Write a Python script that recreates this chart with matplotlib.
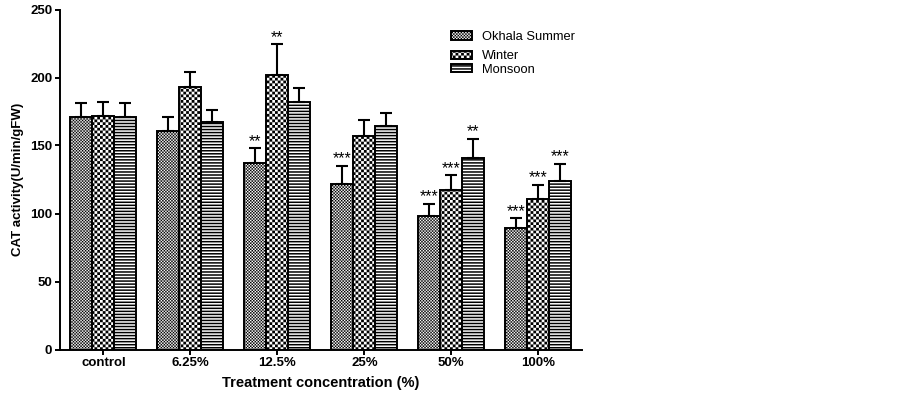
import warnings
import numpy as np
import matplotlib
matplotlib.use('Agg')
import matplotlib.pyplot as plt
import matplotlib.hatch as mhatch
from matplotlib.path import Path

warnings.filterwarnings('ignore')

# ---------------- data ----------------
categories = ['control', '6.25%', '12.5%', '25%', '50%', '100%']
series_names = ['Okhala Summer', 'Winter', 'Monsoon']
summer = [171, 161, 137, 122, 98, 89]
winter = [172, 193, 202, 157, 117, 111]
monsoon = [171, 167, 182, 164, 141, 124]
summer_err = [10.5, 10, 11, 13, 9, 7.5]
winter_err = [10, 11, 22.5, 11.5, 11, 10]
monsoon_err = [10, 9, 10, 10, 14, 12.5]
summer_sig = ['', '', '**', '***', '***', '***']
winter_sig = ['', '', '**', '', '***', '***']
monsoon_sig = ['', '', '', '', '**', '***']
y_ticks = [0, 50, 100, 150, 200, 250]


# ---------------- custom hatch patterns ----------------
class _Checker(mhatch.HatchPatternBase):
    char = 'c'
    cells = 66

    def __init__(self, hatch, density):
        self.n = self.cells if (hatch and self.char in hatch) else 0
        self.num_vertices = (self.n * self.n // 2) * 5

    def set_vertices_and_codes(self, vertices, codes):
        n = self.n
        s = 1.0 / n
        k = 0
        for i in range(n):
            for j in range(n):
                if (i + j) % 2 == 0:
                    x0, y0 = i * s, j * s
                    vertices[k:k + 5] = [[x0, y0], [x0 + s, y0], [x0 + s, y0 + s],
                                         [x0, y0 + s], [x0, y0]]
                    codes[k] = Path.MOVETO
                    codes[k + 1:k + 4] = Path.LINETO
                    codes[k + 4] = Path.CLOSEPOLY
                    k += 5


class _CoarseChecker(_Checker):
    char = 'C'
    cells = 36


class _HLines(mhatch.HatchPatternBase):
    def __init__(self, hatch, density):
        self.n = 33 if (hatch and 'h' in hatch) else 0
        self.num_vertices = self.n * 5

    def set_vertices_and_codes(self, vertices, codes):
        n = self.n
        s = 1.0 / n
        t = 0.015
        for j in range(n):
            y0 = j * s
            k = j * 5
            vertices[k:k + 5] = [[0, y0], [1, y0], [1, y0 + t], [0, y0 + t], [0, y0]]
            codes[k] = Path.MOVETO
            codes[k + 1:k + 4] = Path.LINETO
            codes[k + 4] = Path.CLOSEPOLY


mhatch._hatch_types.extend([_Checker, _CoarseChecker, _HLines])

plt.rcParams['font.family'] = ['Liberation Sans', 'DejaVu Sans']
plt.rcParams['hatch.linewidth'] = 0.01
plt.rcParams['hatch.color'] = 'black'

fig = plt.figure(figsize=(9.02, 3.94), dpi=100)
ax = fig.add_axes([60 / 902, 44.5 / 394, 521.7 / 902, 340 / 394])

x = np.arange(len(categories))
w = 0.253
series = [(summer, summer_err, summer_sig, 'c'),
          (winter, winter_err, winter_sig, 'C'),
          (monsoon, monsoon_err, monsoon_sig, 'h')]

for k, (vals, errs, sigs, hat) in enumerate(series):
    pos = x + (k - 1) * w
    ax.bar(pos, vals, w, yerr=[np.zeros(len(errs)), errs], capsize=4.5,
           error_kw=dict(elinewidth=1.5, capthick=1.5, ecolor='black'),
           facecolor='white', edgecolor='black', linewidth=1.4, hatch=hat,
           label=series_names[k], zorder=2)
    for p, v, e, s in zip(pos, vals, errs, sigs):
        if s:
            ax.annotate(s, (p, v + e), xytext=(0, 1.8), textcoords='offset points',
                        ha='center', va='baseline', fontsize=11.5)

ax.set_xlim(-0.5, len(categories) - 0.5)
ax.set_ylim(0, 250)
ax.set_yticks(y_ticks)
ax.set_xticks(x)
ax.set_xticklabels(categories)
for lab in ax.get_xticklabels() + ax.get_yticklabels():
    lab.set_fontweight('bold')
    lab.set_fontsize(9.5)

for side in ['top', 'right']:
    ax.spines[side].set_visible(False)
for side in ['left', 'bottom']:
    ax.spines[side].set_linewidth(1.4)
ax.tick_params(axis='both', direction='out', length=3.5, width=1.4, pad=2)

ax.set_ylabel('CAT activity(U/min/gFW)', fontsize=9.5, fontweight='bold')
ax.yaxis.set_label_coords(-0.0805, 0.5)
ax.set_xlabel('Treatment concentration (%)', fontsize=10.5, fontweight='bold')
ax.xaxis.set_label_coords(0.5, -0.0985)
ax.xaxis.label.set_va('center')
ax.yaxis.label.set_va('center')

handles, labels = ax.get_legend_handles_labels()
common = dict(loc='center left', frameon=False, fontsize=9.3, handlelength=1.6,
              handleheight=0.6, handletextpad=0.8, borderpad=0, borderaxespad=0)
fig.legend(handles[:1], labels[:1], bbox_to_anchor=(451 / 902, 1 - 37 / 394), **common)
fig.legend(handles[1:], labels[1:], bbox_to_anchor=(451 / 902, 1 - 63 / 394),
           labelspacing=0.1, **common)

fig.savefig('out.png', dpi=100)
